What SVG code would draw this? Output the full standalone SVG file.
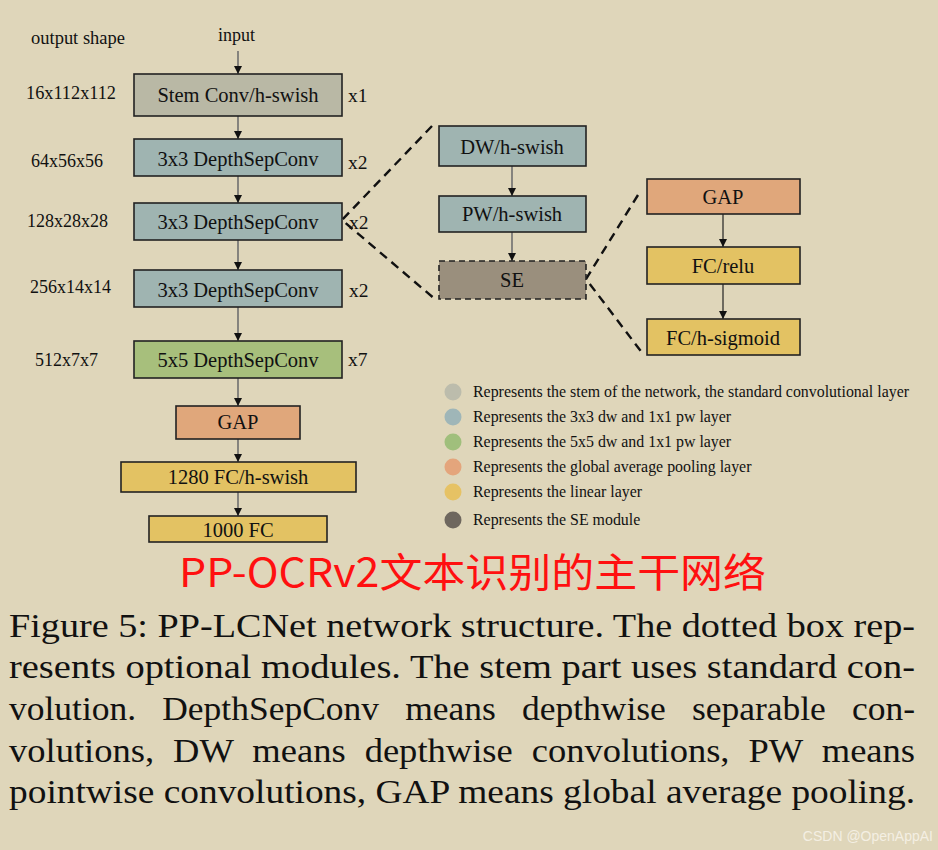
<svg xmlns="http://www.w3.org/2000/svg" width="938" height="850" viewBox="0 0 938 850">
<defs>
<marker id="ah" viewBox="0 0 10 10" refX="10" refY="5" markerWidth="8" markerHeight="8" markerUnits="userSpaceOnUse" orient="auto">
<path d="M0,0 L10,5 L0,10 z" fill="#111"/>
</marker>
<style>
.bg{fill:#dfd6ba}
.box{stroke:#222;stroke-width:1.6}
.stem{fill:#b9b8a5}
.dw{fill:#9fb4b1}
.g5{fill:#a7bf7c}
.gap{fill:#e0a77b}
.fc{fill:#e3c263}
.se{fill:#9a8f7d;stroke-dasharray:6 4}
.t{font-family:"Liberation Serif","Times New Roman",serif;fill:#111}
.lbl{font-size:20.5px;text-anchor:middle}
.side{font-size:18px}
.leg{font-size:15.9px}
.arr{stroke:#6f6f6f;stroke-width:1.6;fill:none}
.arrk{stroke:#222;stroke-width:1.2;fill:none}
.dash{stroke:#111;stroke-width:2.4;stroke-dasharray:9 6;fill:none}
</style>
</defs>
<rect class="bg" x="0" y="0" width="938" height="850"/>

<g id="side-labels" class="t side">
<text x="31" y="44" textLength="94" lengthAdjust="spacingAndGlyphs">output shape</text>
<text x="218" y="41">input</text>
<text x="26" y="99" textLength="90" lengthAdjust="spacingAndGlyphs">16x112x112</text>
<text x="31" y="167">64x56x56</text>
<text x="27" y="227">128x28x28</text>
<text x="30" y="293">256x14x14</text>
<text x="35" y="366">512x7x7</text>
<text x="348" y="102" font-size="19.5">x1</text>
<text x="348" y="169" font-size="19.5">x2</text>
<text x="349" y="229" font-size="19.5">x2</text>
<text x="349" y="297" font-size="19.5">x2</text>
<text x="348" y="366" font-size="19.5">x7</text>
</g>

<g id="connectors">
<line class="arr" x1="238" y1="51" x2="238" y2="74" marker-end="url(#ah)"/>
<line class="arr" x1="238" y1="116" x2="238" y2="139" marker-end="url(#ah)"/>
<line class="arr" x1="238" y1="176" x2="238" y2="203" marker-end="url(#ah)"/>
<line class="arr" x1="238" y1="240" x2="238" y2="270" marker-end="url(#ah)"/>
<line class="arr" x1="238" y1="307" x2="238" y2="341" marker-end="url(#ah)"/>
<line class="arr" x1="238" y1="378" x2="238" y2="406" marker-end="url(#ah)"/>
<line class="arr" x1="238" y1="439" x2="238" y2="462" marker-end="url(#ah)"/>
<line class="arr" x1="238" y1="492" x2="238" y2="516" marker-end="url(#ah)"/>
<line class="arr" x1="512" y1="166" x2="512" y2="196" marker-end="url(#ah)"/>
<line class="arr" x1="512" y1="232" x2="512" y2="261" marker-end="url(#ah)"/>
<line class="arrk" x1="723" y1="214" x2="723" y2="247" marker-end="url(#ah)"/>
<line class="arrk" x1="723" y1="284" x2="723" y2="319" marker-end="url(#ah)"/>
<path class="dash" d="M432,126 L342,220 L436,300"/>
<path class="dash" d="M638,195 L586,279 L643,354"/>
</g>

<g id="stem"><rect class="box stem" x="134" y="74" width="208" height="42"/><text class="t lbl" x="238" y="102">Stem Conv/h-swish</text></g>
<g id="dsc1"><rect class="box dw" x="134" y="139" width="208" height="37"/><text class="t lbl" x="238" y="166">3x3 DepthSepConv</text></g>
<g id="dsc2"><rect class="box dw" x="134" y="203" width="208" height="37"/><text class="t lbl" x="238" y="229">3x3 DepthSepConv</text></g>
<g id="dsc3"><rect class="box dw" x="134" y="270" width="208" height="37"/><text class="t lbl" x="238" y="297">3x3 DepthSepConv</text></g>
<g id="dsc5"><rect class="box g5" x="134" y="341" width="208" height="37"/><text class="t lbl" x="238" y="367">5x5 DepthSepConv</text></g>
<g id="gap"><rect class="box gap" x="176" y="406" width="124" height="33"/><text class="t lbl" x="238" y="429">GAP</text></g>
<g id="fc1280"><rect class="box fc" x="121" y="462" width="235" height="30"/><text class="t lbl" x="238" y="484">1280 FC/h-swish</text></g>
<g id="fc1000"><rect class="box fc" x="149" y="516" width="178" height="26"/><text class="t lbl" x="238" y="537">1000 FC</text></g>

<g id="dwbox"><rect class="box dw" x="439" y="126" width="147" height="40"/><text class="t lbl" x="512" y="154">DW/h-swish</text></g>
<g id="pwbox"><rect class="box dw" x="439" y="196" width="147" height="36"/><text class="t lbl" x="512" y="221">PW/h-swish</text></g>
<g id="sebox"><rect class="box se" x="439" y="261" width="147" height="38"/><text class="t lbl" x="512" y="287">SE</text></g>

<g id="se-gap"><rect class="box gap" x="647" y="179" width="153" height="35"/><text class="t lbl" x="723" y="204">GAP</text></g>
<g id="se-fcrelu"><rect class="box fc" x="647" y="247" width="153" height="37"/><text class="t lbl" x="723" y="273">FC/relu</text></g>
<g id="se-fcsig"><rect class="box fc" x="647" y="319" width="153" height="36"/><text class="t lbl" x="723" y="345">FC/h-sigmoid</text></g>

<g id="legend" class="t leg">
<circle cx="453" cy="392" r="8.5" fill="#bcbcac"/><text x="473" y="397">Represents the stem of the network, the standard convolutional layer</text>
<circle cx="453" cy="417" r="8.5" fill="#9fb6b8"/><text x="473" y="422">Represents the 3x3 dw and 1x1 pw layer</text>
<circle cx="453" cy="442" r="8.5" fill="#a0bf7c"/><text x="473" y="447">Represents the 5x5 dw and 1x1 pw layer</text>
<circle cx="453" cy="467" r="8.5" fill="#e4a57c"/><text x="473" y="472">Represents the global average pooling layer</text>
<circle cx="453" cy="492" r="8.5" fill="#e6c264"/><text x="473" y="497">Represents the linear layer</text>
<circle cx="453" cy="520" r="8.5" fill="#6e675e"/><text x="473" y="525">Represents the SE module</text>
</g>

<text id="title" x="179" y="587" textLength="587" lengthAdjust="spacingAndGlyphs" font-family="'Noto Sans CJK SC','Noto Sans',sans-serif" font-size="40" fill="#ff1010">PP-OCRv2文本识别的主干网络</text>

<g id="caption" class="t" font-size="33">
<text x="9" y="637" textLength="906" lengthAdjust="spacingAndGlyphs">Figure 5: PP-LCNet network structure. The dotted box rep-</text>
<text x="9" y="678" textLength="906" lengthAdjust="spacingAndGlyphs">resents optional modules. The stem part uses standard con-</text>
<text x="9" y="720" textLength="906" lengthAdjust="spacingAndGlyphs" word-spacing="16">volution. DepthSepConv means depthwise separable con-</text>
<text x="9" y="762" textLength="906" lengthAdjust="spacingAndGlyphs" word-spacing="9">volutions, DW means depthwise convolutions, PW means</text>
<text x="9" y="803" textLength="906" lengthAdjust="spacingAndGlyphs">pointwise convolutions, GAP means global average pooling.</text>
</g>

<text id="watermark" x="933" y="841" text-anchor="end" font-family="'Liberation Sans',Arial,sans-serif" font-size="14" fill="#f4efe3">CSDN @OpenAppAI</text>
</svg>
